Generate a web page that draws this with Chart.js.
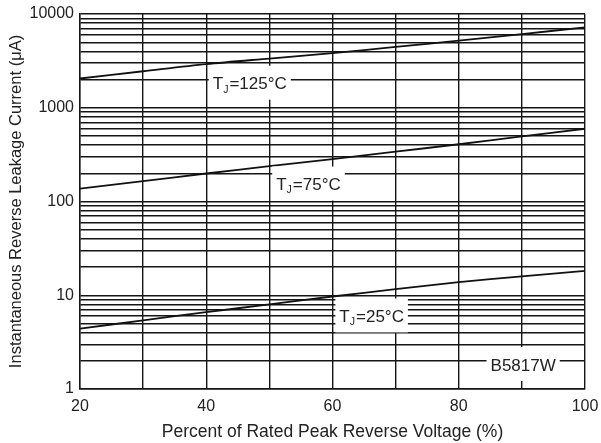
<!DOCTYPE html>
<html>
<head>
<meta charset="utf-8">
<script src="https://cdn.jsdelivr.net/npm/chart.js@4.4.1/dist/chart.umd.min.js"></script>
<style>
html,body{margin:0;padding:0;background:#fff;}
#wrap{width:601px;height:443px;position:relative;}
</style>
</head>
<body>
<div id="wrap"><canvas id="c" width="601" height="443"></canvas></div>
<script>
// ---- data ----
const voltagePct = [20, 30, 40, 50, 60, 70, 80, 90, 100];
const leak125 = [2050, 2450, 2920, 3350, 3830, 4450, 5190, 6100, 7200];
const leak75  = [137, 165, 199, 238, 283, 340, 408, 495, 597];
const leak25  = [4.4, 5.4, 6.6, 8.0, 9.7, 11.6, 13.8, 15.9, 18.2];
const xTickLabels = [20, 40, 60, 80, 100];
const yMajorTicks = [1, 10, 100, 1000, 10000];
const yMinorMultipliers = [2, 3, 4, 5, 6, 7, 8, 9];
const curveLabels = [
  {main: 'T', sub: 'J', rest: '=125°C', x: 46.9, y: 1760},
  {main: 'T', sub: 'J', rest: '=75°C', x: 56.2, y: 148},
  {main: 'T', sub: 'J', rest: '=25°C', x: 66.2, y: 5.8},
  {main: 'B5817W', sub: '', rest: '', x: 90.2, y: 1.76}
];

const yTickValues = [];
yMajorTicks.forEach((d, i) => {
  yTickValues.push(d);
  if (i < yMajorTicks.length - 1) yMinorMultipliers.forEach(m => yTickValues.push(d * m));
});
yTickValues.sort((a, b) => a - b);

const toPts = arr => voltagePct.map((v, i) => ({x: v, y: arr[i]}));
const FONT = "'Liberation Sans', Arial, sans-serif";
const TXT = '#222';

const labelPlugin = {
  id: 'curveLabels',
  afterDraw(chart) {
    const ctx = chart.ctx;
    const xs = chart.scales.x, ys = chart.scales.y;
    curveLabels.forEach(l => {
      const cx = xs.getPixelForValue(l.x);
      const cy = ys.getPixelForValue(l.y);
      ctx.save();
      const mainF = '17px ' + FONT, subF = '10.5px ' + FONT;
      ctx.font = mainF;
      const w1 = ctx.measureText(l.main).width;
      const w3 = ctx.measureText(l.rest).width;
      ctx.font = subF;
      const w2 = l.sub ? ctx.measureText(l.sub).width + 1 : 0;
      const tw = w1 + w2 + w3;
      const bw = tw + 8, bh = 34;
      ctx.fillStyle = '#fff';
      ctx.fillRect(cx - bw / 2, cy - bh / 2 - 2, bw, bh);
      let x = cx - tw / 2;
      ctx.fillStyle = TXT;
      ctx.textBaseline = 'middle';
      ctx.textAlign = 'left';
      ctx.font = mainF;
      ctx.fillText(l.main, x, cy);
      x += w1;
      if (l.sub) {
        ctx.font = subF;
        ctx.fillText(l.sub, x, cy + 5);
        x += w2;
      }
      ctx.font = mainF;
      ctx.fillText(l.rest, x, cy);
      ctx.restore();
    });
  }
};

const gridColor = '#151515';

new Chart(document.getElementById('c'), {
  type: 'line',
  data: {
    datasets: [
      {data: toPts(leak125), borderColor: '#111', borderWidth: 1.8, pointRadius: 0, tension: 0.3},
      {data: toPts(leak75), borderColor: '#111', borderWidth: 1.8, pointRadius: 0, tension: 0.3},
      {data: toPts(leak25), borderColor: '#111', borderWidth: 1.8, pointRadius: 0, tension: 0.3}
    ]
  },
  options: {
    responsive: false,
    animation: false,
    devicePixelRatio: 1,
    layout: {padding: {top: 14, right: 16, left: 0, bottom: 0}},
    plugins: {legend: {display: false}, tooltip: {enabled: false}},
    scales: {
      x: {
        type: 'linear', min: 20, max: 100,
        afterBuildTicks: s => { s.ticks = voltagePct.map(v => ({value: v})); },
        afterFit: s => { s.height = 54; s.paddingLeft = 0; s.paddingRight = 0; },
        ticks: {
          autoSkip: false, maxRotation: 0, padding: 8, color: TXT,
          font: {family: FONT, size: 16},
          callback: v => xTickLabels.includes(v) ? String(v) : ''
        },
        grid: {color: gridColor, lineWidth: 1.4, drawTicks: false},
        border: {color: gridColor, width: 1.4},
        title: {display: true, text: 'Percent of Rated Peak Reverse Voltage (%)', color: TXT,
                font: {family: FONT, size: 17.5}, padding: {top: 0, bottom: 0}}
      },
      y: {
        type: 'logarithmic', min: 1, max: 10000,
        afterBuildTicks: s => { s.ticks = yTickValues.map(v => ({value: v})); },
        afterFit: s => { s.width = 80; s.paddingTop = 0; s.paddingBottom = 0; },
        ticks: {
          autoSkip: false, padding: 6, color: TXT,
          font: {family: FONT, size: 16},
          callback: v => yMajorTicks.includes(v) ? String(v) : ''
        },
        grid: {color: gridColor, lineWidth: 1.4, drawTicks: false},
        border: {color: gridColor, width: 1.4},
        title: {display: true, text: 'Instantaneous Reverse Leakage Current (μA)', color: TXT,
                font: {family: FONT, size: 16.5}, padding: {top: 7, bottom: 0}}
      }
    }
  },
  plugins: [labelPlugin]
});
</script>
</body>
</html>
